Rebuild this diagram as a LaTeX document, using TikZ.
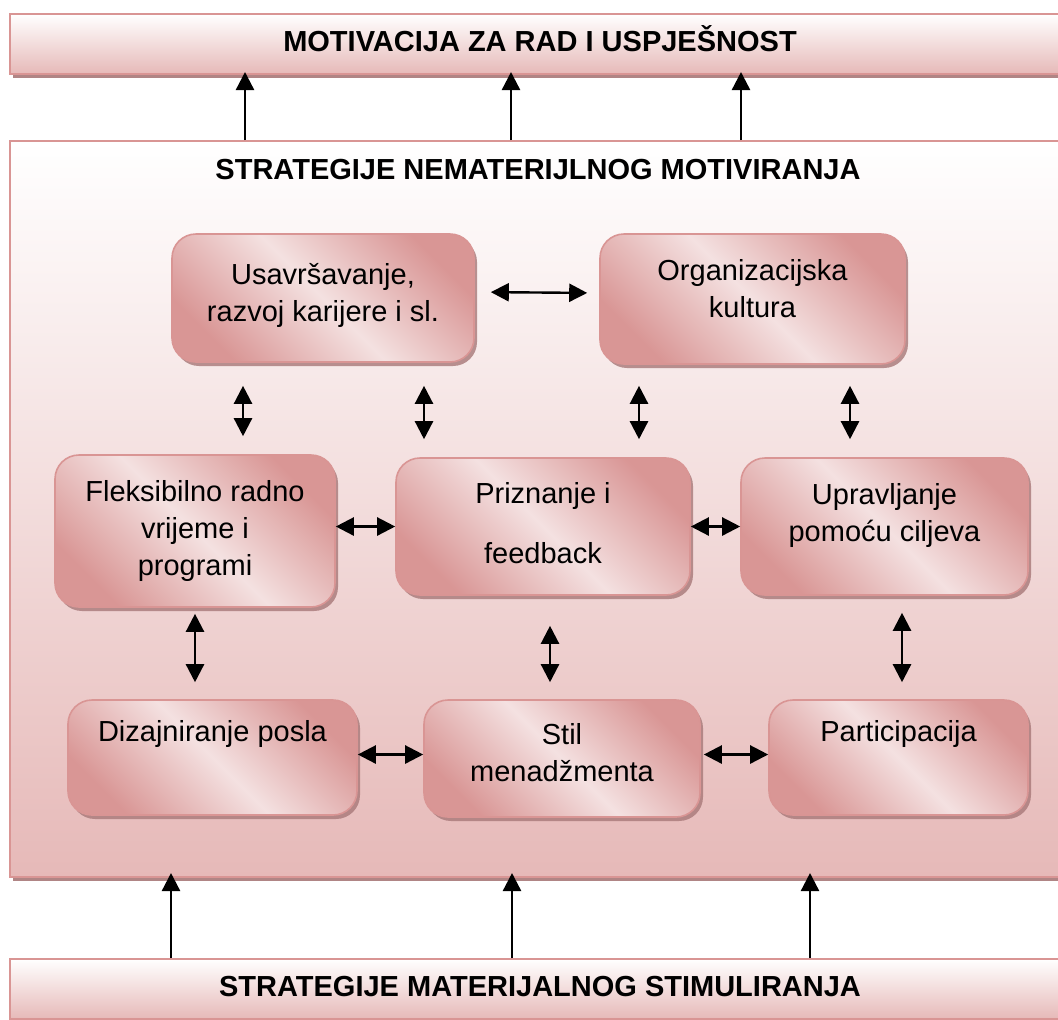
\documentclass[tikz,border=0pt]{standalone}
\usepackage{fontspec}
\setmainfont{Liberation Sans}
\usetikzlibrary{arrows.meta,shadows,positioning}
\definecolor{rim}{HTML}{D99594}
\definecolor{rose}{HTML}{D99695}
\definecolor{blush}{HTML}{F4E1E1}
\definecolor{pale}{HTML}{E6B9B8}
\definecolor{shade}{HTML}{A77878}
\tikzset{
>={Triangle[length=9pt,width=9pt]},
  bar/.style   = { draw=rim, line width=1pt, top color=white, bottom color=pale,
                   minimum width=530pt, minimum height=30pt, font=\bfseries,
                   drop shadow={shadow xshift=1.5pt, shadow yshift=-2pt, fill=shade, opacity=.9} },
  frame/.style = { draw=rim, line width=1pt, top color=white, bottom color=pale,
                   minimum width=530pt, minimum height=368pt,
                   drop shadow={shadow xshift=1.5pt, shadow yshift=-2pt, fill=shade, opacity=.9} },
  title/.style = { font=\bfseries },
  strat/.style = { draw=rim, line width=.8pt, rounded corners=12pt,
                   top color=rose, bottom color=rose, middle color=blush, shading angle=-45,
                   align=center, inner sep=2pt,
                   drop shadow={shadow xshift=1.5pt, shadow yshift=-2pt, fill=shade, opacity=.8} },
  topline/.style = { text height=18.5pt, text depth=35pt },
  link/.style  = { <->, line width=1.2pt },
  lift/.style  = { ->, line width=1.2pt },
}
\begin{document}
\fontsize{14.5}{18.5}\selectfont
\begin{tikzpicture}[x=0.5pt,y=-0.5pt]
  \useasboundingbox (0,0) rectangle (1058,1019);
  \clip (0,0) rectangle (1058,1019);

  % Draw bars and frame
  \node[bar, text depth=5pt] (goal) at (540,44) {MOTIVACIJA ZA RAD I USPJEŠNOST};
  \node[frame] (frame) at (540,509) {};
  \node[title] (nonmat) at (538,170) {STRATEGIJE NEMATERIJLNOG MOTIVIRANJA};
  \node[bar, text depth=3pt] (mat) at (540,989) {STRATEGIJE MATERIJALNOG STIMULIRANJA};

  % Draw strategies
  \node[strat, minimum width=151pt, minimum height=64pt] (usav) at (323,298) {Usavršavanje,\\razvoj karijere i sl.\\[-12.5pt]};
  \node[strat, minimum width=152.5pt, minimum height=65pt] (org) at (752.5,299) {Organizacijska\\kultura\\[-8pt]};
  \node[strat, minimum width=140pt, minimum height=76pt] (flex) at (195,531) {Fleksibilno radno\\vrijeme i\\programi};
  \node[strat, minimum width=147pt, minimum height=68.5pt] (prizn) at (543,526.5) {Priznanje i\\[11.5pt]feedback\\[-15pt]};
  \node[strat, minimum width=143.5pt, minimum height=68.5pt] (uprav) at (884.5,526.5) {Upravljanje\\pomoću ciljeva\\[-4pt]};
  \node[strat, topline, minimum width=144.5pt] (dizajn) at (212.5,757.5) {Dizajniranje posla};
  \node[strat, minimum width=138pt, minimum height=58.5pt] (stil) at (562,758.5) {Stil\\menadžmenta\\[-12.5pt]};
  \node[strat, topline, minimum width=129.5pt] (partic) at (898.5,757.5) {Participacija};

  % Draw links
  \draw[link, shorten <=8pt, shorten >=6pt] ([yshift=3pt]usav.east) -- ([yshift=3pt]org.west);
  \draw[link, shorten <=11.5pt, shorten >=9pt] (usav.south -| 243,0) -- (flex.north -| 243,0);
  \draw[link, shorten <=11.5pt, shorten >=9pt] (usav.south -| 424,0) -- (prizn.north -| 424,0);
  \draw[link, shorten <=10.5pt, shorten >=9pt] (org.south -| 639,0) -- (prizn.north -| 639,0);
  \draw[link, shorten <=10.5pt, shorten >=9pt] (org.south -| 850,0) -- (uprav.north -| 850,0);
  \draw[link] (prizn.west -| flex.east) -- (prizn.west);
  \draw[link] (prizn.east) -- (uprav.west);
  \draw[link, shorten <=3pt, shorten >=8.5pt] (flex.south -| 195,0) -- (dizajn.north -| 195,0);
  \draw[link, shorten <=15pt, shorten >=8.5pt] (prizn.south -| 550,0) -- (stil.north -| 550,0);
  \draw[link, shorten <=8.5pt, shorten >=8.5pt] (uprav.south -| 902,0) -- (partic.north -| 902,0);
  \draw[link] ([yshift=2pt]stil.west -| dizajn.east) -- ([yshift=2pt]stil.west);
  \draw[link, shorten <=1.5pt] ([yshift=2pt]stil.east) -- ([yshift=2pt]stil.east -| partic.west);

  % Draw outer arrows
  \foreach \x in {245,511,741}
    \draw[lift, shorten >=-1.5pt] (frame.north -| \x,0) -- (goal.south -| \x,0);
  \foreach \x in {171,512,810}
    \draw[lift, shorten >=-2.5pt] (mat.north -| \x,0) -- (frame.south -| \x,0);
\end{tikzpicture}
\end{document}
